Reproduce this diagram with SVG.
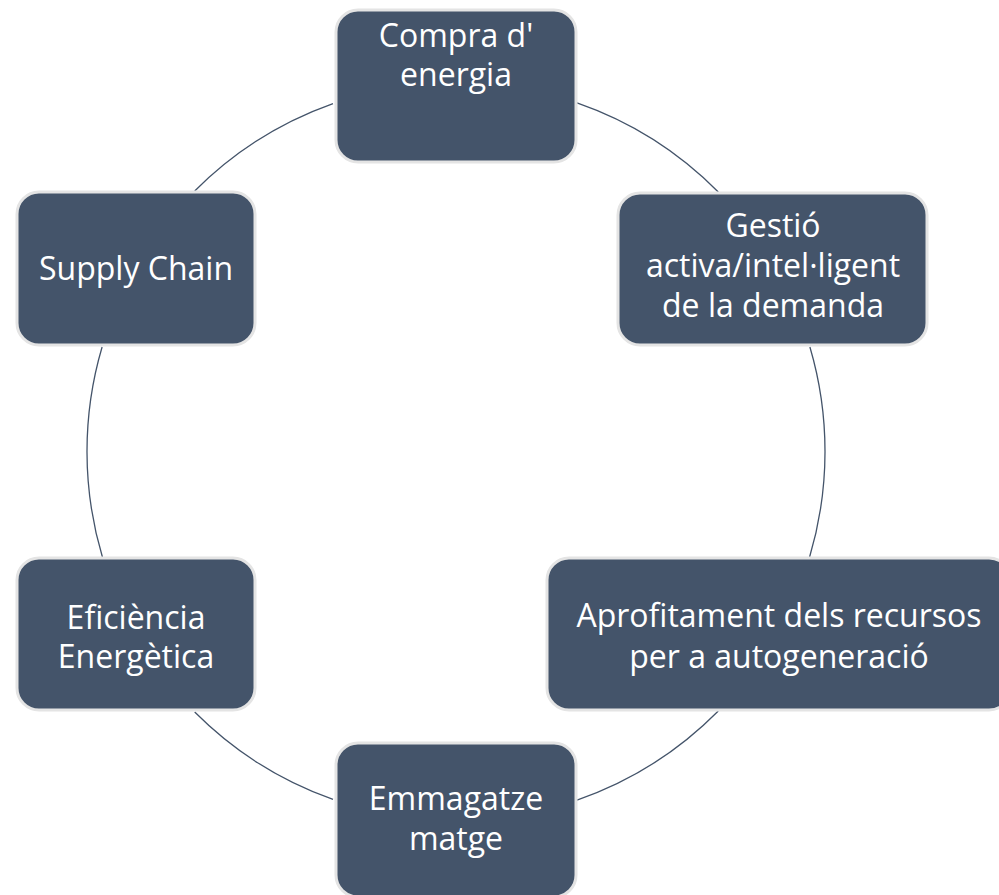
<svg xmlns="http://www.w3.org/2000/svg" width="999" height="895" viewBox="0 0 999 895">
<style>
.node rect{fill:#44546a;stroke:#e4e4e4;stroke-width:3}
.node text{fill:#ffffff;font-family:"Open Sans","Noto Sans",sans-serif;font-size:32px;text-anchor:middle}
.conn path{fill:none;stroke:#44546a;stroke-width:1.3}
</style>
<rect width="999" height="895" fill="#ffffff"/>
<g id="connectors" class="conn">
<path d="M577,102.9 A369,369 0 0 1 718.3,192"/>
<path d="M809.9,347 A369,369 0 0 1 809.6,557"/>
<path d="M718.3,711 A369,369 0 0 1 577,800.1"/>
<path d="M333,799.4 A369,369 0 0 1 194.7,712"/>
<path d="M102.4,557 A369,369 0 0 1 102.1,347"/>
<path d="M194.7,191 A369,369 0 0 1 333,103.6"/>
</g>
<g id="node-compra" class="node">
<rect x="336" y="10" width="240" height="152" rx="22"/>
<text x="456" y="47">Compra d'</text>
<text x="456" y="86">energia</text>
</g>
<g id="node-gestio" class="node">
<rect x="618" y="193" width="309" height="152" rx="22"/>
<text x="773" y="237">Gestió</text>
<text x="773" y="277">activa/intel·ligent</text>
<text x="773" y="317">de la demanda</text>
</g>
<g id="node-aprofitament" class="node">
<rect x="547" y="558" width="464" height="152" rx="22"/>
<text x="779" y="627">Aprofitament dels recursos</text>
<text x="779" y="668">per a autogeneració</text>
</g>
<g id="node-emmagatzematge" class="node">
<rect x="336" y="743" width="240" height="154" rx="22"/>
<text x="456" y="810">Emmagatze</text>
<text x="456" y="850">matge</text>
</g>
<g id="node-eficiencia" class="node">
<rect x="17" y="558" width="238" height="152" rx="22"/>
<text x="136" y="629">Eficiència</text>
<text x="136" y="668">Energètica</text>
</g>
<g id="node-supply" class="node">
<rect x="17" y="192" width="238" height="153" rx="22"/>
<text x="136" y="280">Supply Chain</text>
</g>
</svg>
